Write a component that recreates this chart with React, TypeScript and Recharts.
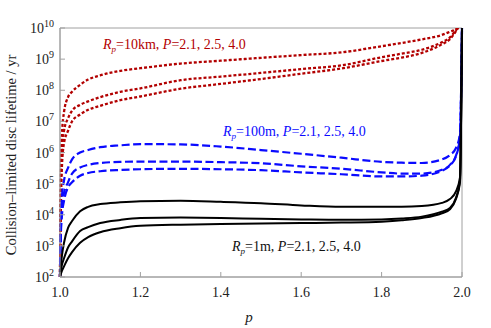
import React from 'react'
import { LineChart, Line, XAxis, YAxis, ReferenceArea } from 'recharts'

// slope index p (x axis)
const pValues = [1.0, 1.002, 1.005, 1.01, 1.02, 1.03, 1.05, 1.07, 1.1, 1.15, 1.2, 1.3, 1.4, 1.5, 1.6, 1.7, 1.8, 1.85, 1.9, 1.95, 1.97, 1.985, 1.995, 2.0]

// Rp = 10km, P = 2.1, 2.5, 4.0 (lifetime in yr)
const red10kmA = [1e2, 1e5, 4e6, 2e7, 6e7, 9e7, 1.5e8, 2.2e8, 3e8, 4.2e8, 5.1e8, 7.2e8, 8.9e8, 1.1e9, 1.35e9, 1.65e9, 2.6e9, 3.3e9, 4.3e9, 6e9, 7.6e9, 9.3e9, 1.26e10, 1.6e10]
const red10kmB = [1e2, 3.2e4, 1e6, 5e6, 1.26e7, 2.2e7, 3.4e7, 4.4e7, 6e7, 8.9e7, 1.15e8, 2.1e8, 2.75e8, 3.6e8, 4.8e8, 6.3e8, 1.15e9, 1.5e9, 2e9, 3.5e9, 5e9, 8.5e9, 1.26e10, 1.6e10]
const red10kmC = [1e2, 1.6e4, 4e5, 2e6, 5e6, 1e7, 1.66e7, 2.35e7, 3.16e7, 4.8e7, 6.3e7, 1.12e8, 1.6e8, 2.3e8, 3.4e8, 5e8, 8.7e8, 1.12e9, 1.58e9, 3e9, 4.4e9, 7.9e9, 1.26e10, 1.6e10]

// Rp = 100m
const blue100mA = [1e2, 6.3e3, 4e4, 1.26e5, 3.2e5, 6e5, 1e6, 1.2e6, 1.48e6, 1.7e6, 1.86e6, 1.82e6, 1.55e6, 1.2e6, 9.1e5, 6.8e5, 5e5, 4.7e5, 4.6e5, 6e5, 8.3e5, 1.4e6, 4e6, 1e10]
const blue100mB = [1e2, 3.2e3, 1.6e4, 5e4, 1.1e5, 2.1e5, 3.3e5, 4e5, 4.6e5, 5e5, 5.1e5, 5.1e5, 4.9e5, 4.5e5, 3.6e5, 3e5, 2.3e5, 2.1e5, 2.1e5, 2.8e5, 4e5, 7.9e5, 3.2e6, 1e10]
const blue100mC = [1e2, 2e3, 1e4, 2.8e4, 7.6e4, 1.1e5, 1.8e5, 2.2e5, 2.5e5, 2.75e5, 2.9e5, 3e5, 2.9e5, 2.7e5, 2.3e5, 2e5, 1.7e5, 1.7e5, 1.8e5, 2.6e5, 3.8e5, 7.6e5, 3.2e6, 1e10]

// Rp = 1m
const black1mA = [1e2, 2.2e2, 5e2, 1.26e3, 3.8e3, 6.3e3, 1.3e4, 1.8e4, 2.2e4, 2.5e4, 2.7e4, 2.8e4, 2.6e4, 2.35e4, 2e4, 1.8e4, 1.8e4, 1.8e4, 1.9e4, 2.4e4, 3.2e4, 5.6e4, 1.6e5, 1e10]
const black1mB = [1e2, 1.6e2, 2.5e2, 4e2, 8.9e2, 1.4e3, 3e3, 4e3, 5.4e3, 6.8e3, 7.8e3, 8.1e3, 7.9e3, 7.4e3, 7.1e3, 6.9e3, 7.1e3, 7.6e3, 8.7e3, 1.26e4, 1.66e4, 3.5e4, 1.26e5, 1e10]
const black1mC = [1e2, 1.26e2, 1.6e2, 2.2e2, 4e2, 6.3e2, 1.26e3, 1.9e3, 2.75e3, 3.7e3, 4.4e3, 4.8e3, 5e3, 5.2e3, 5.4e3, 5.6e3, 6e3, 6.6e3, 7.8e3, 1.12e4, 1.5e4, 3.2e4, 1.1e5, 1e10]

const xTicks = [1.0, 1.2, 1.4, 1.6, 1.8, 2.0]
const yExponents = [2, 3, 4, 5, 6, 7, 8, 9, 10]
const yTicks = yExponents.map((e) => Math.pow(10, e))

const RED = '#b20000'
const BLUE = '#0a0aff'
const FRAME = '#a0a0a0'
const SERIF = '"Liberation Serif", "DejaVu Serif", serif'

const data = pValues.map((p, i) => ({
  p,
  r1: red10kmA[i], r2: red10kmB[i], r3: red10kmC[i],
  b1: blue100mA[i], b2: blue100mB[i], b3: blue100mC[i],
  k1: black1mA[i], k2: black1mB[i], k3: black1mC[i],
}))

function YTick({ x, y, payload }: any) {
  const exp = Math.round(Math.log10(payload.value))
  return (
    <g>
      <line x1={x} x2={x + 5} y1={y} y2={y} stroke={FRAME} />
      <text x={x - 6} y={y + 5} textAnchor="end" fontFamily={SERIF} fontSize={14} fill="#222">
        10<tspan dy={-6} fontSize={10}>{exp}</tspan>
      </text>
    </g>
  )
}

function XTick({ x, y, payload }: any) {
  return (
    <g>
      <line x1={x} x2={x} y1={y} y2={y - 5} stroke={FRAME} />
      <text x={x} y={y + 20} textAnchor="middle" fontFamily={SERIF} fontSize={14} fill="#222">
        {payload.value.toFixed(1)}
      </text>
    </g>
  )
}

function Note({ x, y, color, size }: { x: number, y: number, color: string, size: string }) {
  return (
    <text x={x} y={y} fontFamily={SERIF} fontSize={14} fill={color}>
      <tspan fontStyle="italic">R</tspan>
      <tspan fontStyle="italic" fontSize={9} dy={3}>p</tspan>
      <tspan dy={-3}>={size}, </tspan>
      <tspan fontStyle="italic">P</tspan>
      <tspan>=2.1, 2.5, 4.0</tspan>
    </text>
  )
}

export default function App() {
  const seriesStyle = [
    { key: 'r1', color: RED, dash: '3 2', w: 2.3 },
    { key: 'r2', color: RED, dash: '3 2', w: 2.3 },
    { key: 'r3', color: RED, dash: '3 2', w: 2.3 },
    { key: 'b1', color: BLUE, dash: '8 3.5', w: 2.2 },
    { key: 'b2', color: BLUE, dash: '8 3.5', w: 2.2 },
    { key: 'b3', color: BLUE, dash: '8 3.5', w: 2.2 },
    { key: 'k1', color: '#000', dash: undefined, w: 2 },
    { key: 'k2', color: '#000', dash: undefined, w: 2 },
    { key: 'k3', color: '#000', dash: undefined, w: 2 },
  ]

  return (
    <div style={{ position: 'absolute', left: 0, top: 0, width: 491, height: 328, background: '#fff' }}>
      <LineChart width={491} height={328} data={data} margin={{ top: 28, right: 29, left: 0, bottom: 0 }}>
        <XAxis
          dataKey="p"
          type="number"
          domain={[1, 2]}
          ticks={xTicks}
          height={51}
          tickSize={0}
          tickMargin={0}
          tickLine={false}
          axisLine={{ stroke: FRAME }}
          tick={<XTick />}
          interval={0}
        />
        <YAxis
          type="number"
          scale="log"
          domain={[1e2, 1e10]}
          allowDataOverflow
          ticks={yTicks}
          width={60}
          tickSize={0}
          tickMargin={0}
          tickLine={false}
          axisLine={{ stroke: FRAME }}
          tick={<YTick />}
          interval={0}
        />
        <ReferenceArea x1={1} x2={2} y1={1e2} y2={1e10} fill="none" stroke={FRAME} strokeWidth={1} />
        {seriesStyle.map((s) => (
          <Line
            key={s.key}
            dataKey={s.key}
            type="monotone"
            stroke={s.color}
            strokeWidth={s.w}
            strokeDasharray={s.dash}
            dot={false}
            isAnimationActive={false}
          />
        ))}
      </LineChart>

      <svg width={491} height={328} style={{ position: 'absolute', left: 0, top: 0, pointerEvents: 'none' }}>
        <Note x={103} y={49} color={RED} size="10km" />
        <Note x={223} y={136} color={BLUE} size="100m" />
        <Note x={232} y={251} color="#111" size="1m" />
        <text x={249} y={322} textAnchor="middle" fontFamily={SERIF} fontSize={15} fontStyle="italic" fill="#222">p</text>
        <text
          transform="translate(16 155) rotate(-90)"
          textAnchor="middle"
          fontFamily={SERIF}
          fontSize={14.5}
          fill="#222"
        >
          Collision–limited disc lifetime / yr
        </text>
      </svg>
    </div>
  )
}
